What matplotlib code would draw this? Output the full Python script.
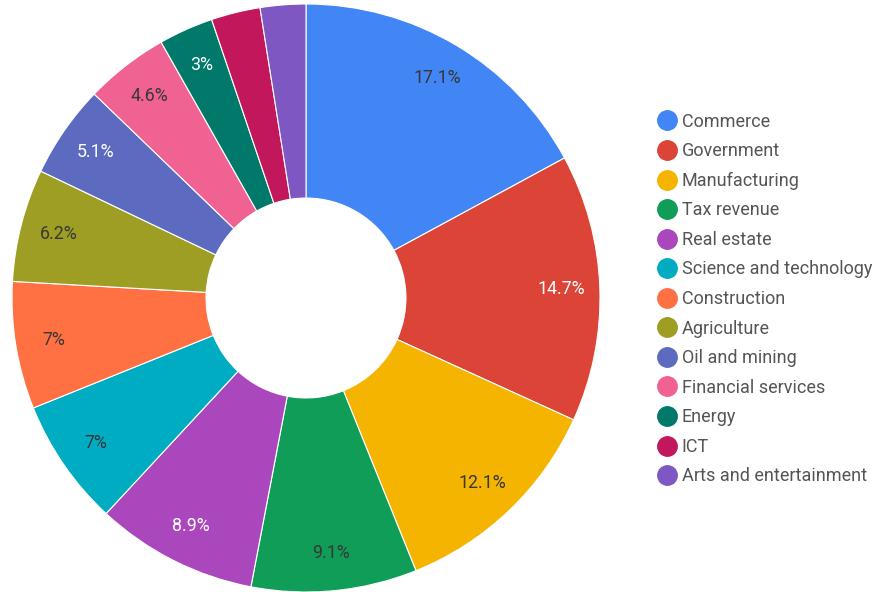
import matplotlib
matplotlib.use("Agg")
import matplotlib.pyplot as plt
from matplotlib.lines import Line2D
import numpy as np

plt.rcParams['font.family'] = ['Roboto', 'DejaVu Sans']

sectors = ['Commerce', 'Government', 'Manufacturing', 'Tax revenue', 'Real estate',
           'Science and technology', 'Construction', 'Agriculture', 'Oil and mining',
           'Financial services', 'Energy', 'ICT', 'Arts and entertainment']
shares = [17.1, 14.7, 12.1, 9.1, 8.9, 7, 7, 6.2, 5.1, 4.6, 3, 2.7, 2.5]
colors = ['#4285F4', '#DB4437', '#F4B400', '#0F9D58', '#AB47BC', '#00ACC1', '#FF7043',
          '#9E9D24', '#5C6BC0', '#F06292', '#00796B', '#C2185B', '#7E57C2']
label_colors = ['#383838', 'white', '#383838', '#383838', 'white', '#383838', '#383838',
                '#383838', 'white', '#383838', 'white', 'white', 'white']

fig = plt.figure(figsize=(8.88, 5.92), dpi=100)
ax = fig.add_axes([12 / 888, 0, 588 / 888, 588 / 592])

wedges, texts = ax.pie(shares, colors=colors, startangle=90, counterclock=False,
                       radius=1, wedgeprops=dict(width=0.66, edgecolor='white', linewidth=0.8))

# percentage labels, hidden for the smallest slices like google charts does
for w, v, c in zip(wedges, shares, label_colors):
    if v < 3:
        continue
    ang = np.deg2rad((w.theta1 + w.theta2) / 2)
    r = 0.87
    ax.text(r * np.cos(ang), r * np.sin(ang), f'{v:g}%', ha='center', va='center',
            fontsize=12.8, color=c)

ax.set_xlim(-1, 1)
ax.set_ylim(-1, 1)
ax.set_aspect('equal')
ax.axis('off')

handles = [Line2D([0], [0], marker='o', linestyle='', markersize=14,
                  markerfacecolor=c, markeredgecolor=c) for c in colors]
leg = fig.legend(handles, sectors, loc='center left', bbox_to_anchor=(650 / 888, 1 - 299 / 592),
                 frameon=False, fontsize=13, handletextpad=0.25, labelspacing=0.64,
                 handlelength=1.1, borderaxespad=0)
for t in leg.get_texts():
    t.set_color('#555555')

fig.savefig('out.png', dpi=100, facecolor='white')
